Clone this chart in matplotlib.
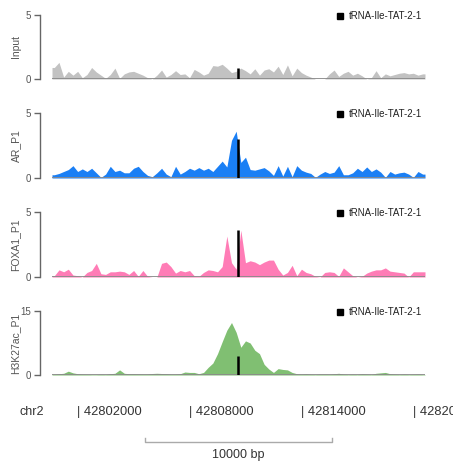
import matplotlib
matplotlib.use('Agg')

import matplotlib.pyplot as plt
import numpy as np

plt.rcParams['font.family'] = ['Liberation Sans', 'DejaVu Sans']

# genomic window (chr2) and bins of 250 bp
chrom = 'chr2'
win_start = 42800650
win_end = 42820650
n_bins = 80

gene_name = 'tRNA-Ile-TAT-2-1'
gene_pos = 42810620

input_vals = [0.9, 1.3, 0.15, 0.6, 0.3, 0.6, 0.1, 0.35, 0.9, 0.55,
              0.3, 0.05, 0.35, 0.85, 0.05, 0.4, 0.55, 0.6, 0.45, 0.3,
              0.1, 0.0, 0.3, 0.7, 0.15, 0.35, 0.65, 0.35, 0.4, 0.1,
              0.75, 0.55, 0.3, 0.45, 1.05, 1.0, 1.15, 0.85, 0.5, 0.6,
              0.85, 0.65, 0.4, 0.8, 0.3, 0.7, 0.8, 0.55, 1.0, 0.35,
              1.1, 0.25, 0.85, 0.5, 0.3, 0.15, 0.0, 0.0, 0.0, 0.4,
              0.7, 0.2, 0.45, 0.6, 0.3, 0.45, 0.25, 0.0, 0.1, 0.65,
              0.1, 0.4, 0.25, 0.35, 0.45, 0.5, 0.4, 0.45, 0.3, 0.4]

ar_vals = [0.25, 0.35, 0.5, 0.65, 0.95, 0.5, 0.7, 0.5, 0.75, 0.4,
           0.05, 0.3, 0.9, 0.5, 0.6, 0.4, 0.4, 0.75, 0.9, 0.5,
           0.2, 0.1, 0.4, 0.75, 0.3, 0.1, 0.9, 0.3, 0.5, 0.75,
           0.6, 0.8, 0.6, 0.75, 0.5, 0.9, 1.3, 0.85, 2.9, 3.6,
           1.2, 1.6, 0.65, 0.6, 0.7, 0.8, 0.55, 0.2, 0.95, 0.15,
           0.9, 0.1, 0.95, 0.6, 0.45, 0.35, 0.05, 0.3, 0.5, 0.35,
           0.45, 0.95, 0.25, 0.25, 0.4, 0.75, 0.5, 0.85, 0.5, 0.7,
           0.45, 0.05, 0.5, 0.3, 0.4, 0.45, 0.3, 0.05, 0.5, 0.3]

foxa1_vals = [0.1, 0.55, 0.4, 0.6, 0.15, 0.1, 0.0, 0.35, 0.5, 1.05,
              0.25, 0.2, 0.4, 0.4, 0.45, 0.4, 0.2, 0.5, 0.05, 0.5,
              0.05, 0.0, 0.0, 1.05, 1.15, 0.8, 0.3, 0.5, 0.4, 0.5,
              0.1, 0.05, 0.35, 0.55, 0.5, 0.4, 0.8, 3.15, 1.1, 0.6,
              3.6, 1.1, 1.25, 1.15, 0.95, 1.15, 1.3, 1.3, 0.6, 0.15,
              0.35, 0.9, 0.1, 0.6, 0.35, 0.25, 0.05, 0.0, 0.35, 0.4,
              0.35, 0.05, 0.7, 0.4, 0.1, 0.0, 0.05, 0.3, 0.45, 0.55,
              0.55, 0.7, 0.45, 0.4, 0.35, 0.3, 0.0, 0.4, 0.4, 0.4]

h3k27ac_vals = [0.2, 0.3, 0.4, 0.9, 0.5, 0.3, 0.2, 0.15, 0.1, 0.1,
                0.15, 0.1, 0.3, 0.4, 1.2, 0.4, 0.3, 0.3, 0.25, 0.2,
                0.2, 0.35, 0.4, 0.35, 0.3, 0.2, 0.2, 0.3, 0.7, 0.6,
                0.6, 0.3, 0.6, 1.8, 2.8, 5.0, 7.8, 10.5, 12.3, 10.0,
                6.5, 8.0, 7.5, 5.8, 5.0, 2.5, 1.4, 0.6, 1.5, 1.3,
                1.2, 0.6, 0.3, 0.2, 0.3, 0.15, 0.1, 0.2, 0.2, 0.15,
                0.3, 0.4, 0.2, 0.1, 0.15, 0.1, 0.3, 0.2, 0.1, 0.4,
                0.5, 0.6, 0.3, 0.2, 0.1, 0.2, 0.1, 0.15, 0.2, 0.1]

track_names = ['Input', 'AR_P1', 'FOXA1_P1', 'H3K27ac_P1']
track_vals = [input_vals, ar_vals, foxa1_vals, h3k27ac_vals]
track_max = [5, 5, 5, 15]
# signal height at the gene (drawn in black)
gene_heights = [0.85, 3.0, 3.6, 4.5]
colors = ['#c2c2c2', '#1a7ff5', '#ff7cb6', '#80bf72']

pos_ticks = [42802000, 42808000, 42814000, 42820000]
scale_start = 42805650
scale_len = 10000

fig = plt.figure(figsize=(4.53, 4.66), dpi=100)
W, H = 453.0, 466.0

bin_w = (win_end - win_start) / n_bins
centers = win_start + bin_w * (np.arange(n_bins) + 0.5)
xs = np.concatenate([[win_start], centers, [win_end]])

panel_px = [(15, 79), (113, 178), (212, 277), (311, 375)]
left_px, right_px = 52, 425

for k in range(4):
    top, bot = panel_px[k]
    ax = fig.add_axes([left_px / W, 1 - bot / H, (right_px - left_px) / W, (bot - top) / H])
    v = track_vals[k]
    ys = np.concatenate([[v[0]], v, [v[-1]]])
    ax.fill_between(xs, 0, ys, color=colors[k], linewidth=0)
    ax.plot([win_start, win_end], [0, 0], color='#8a8a8a', linewidth=1.3, solid_capstyle='butt')
    ax.vlines(gene_pos, 0, gene_heights[k], color='black', linewidth=1.8)
    ax.set_xlim(win_start, win_end)
    ax.set_ylim(0, track_max[k])
    for s in ['top', 'right', 'bottom']:
        ax.spines[s].set_visible(False)
    ax.spines['left'].set_position(('outward', 9))
    ax.spines['left'].set_color('#666666')
    ax.spines['left'].set_linewidth(1.0)
    ax.set_xticks([])
    ax.set_yticks([0, track_max[k]])
    ax.tick_params(axis='y', length=4, width=1.0, color='#666666', labelsize=7,
                   labelcolor='#555555', pad=2)
    ax.set_ylabel(track_names[k], fontsize=7.5, color='#555555')
    ax.yaxis.set_label_coords(-0.084, 0.5)

    # legend for the gene
    ax.plot([0.772], [0.985], marker='s', markersize=4, color='black',
            transform=ax.transAxes, clip_on=False)
    ax.text(0.795, 0.985, gene_name, transform=ax.transAxes, fontsize=7,
            color='#222222', va='center', ha='left')

# coordinate row and scale bar
axb = fig.add_axes([left_px / W, 0.0, (right_px - left_px) / W, 1 - 395 / H])
axb.set_xlim(win_start, win_end)
axb.set_ylim(0, 71)
axb.axis('off')
fig.text(20 / W, 1 - 412 / H, chrom, fontsize=9, color='#333333', va='center', ha='left')
for p in pos_ticks:
    axb.text(p, 71 - 17, '| ' + str(p), fontsize=9.3, color='#333333', va='center', ha='left',
             clip_on=False)

sy = 71 - 46.5
axb.plot([scale_start, scale_start, scale_start + scale_len, scale_start + scale_len],
         [sy + 4, sy, sy, sy + 4], color='#aaaaaa', linewidth=1.0)
axb.text(scale_start + scale_len / 2, 71 - 60, '%d bp' % scale_len, fontsize=9,
         color='#333333', ha='center', va='center')

fig.savefig('out.png', dpi=100)
